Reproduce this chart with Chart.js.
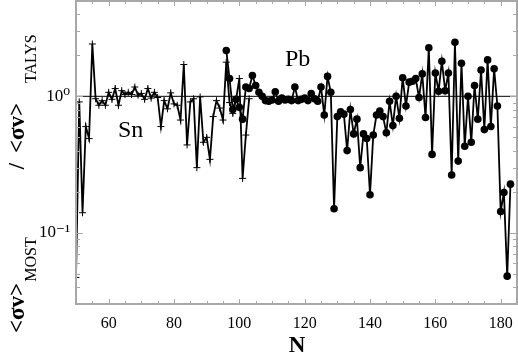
<!DOCTYPE html>
<html>
<head>
<meta charset="utf-8">
<script src="https://cdn.jsdelivr.net/npm/chart.js@4.4.1/dist/chart.umd.min.js"></script>
<style>
  html, body { margin: 0; padding: 0; background: #fff; }
  #wrap { width: 518px; height: 355px; }
</style>
</head>
<body>
<div id="wrap"><canvas id="c" width="518" height="355"></canvas></div>
<script>
// Sn chain, N = 50 .. 103
const snN = [];
for (let n = 50; n <= 103; n++) snN.push(n);
const snRatio = [
  0.047, 0.91, 0.14, 0.6, 0.49, 2.42, 0.96, 0.86, 0.93, 0.86,
  1.07, 0.95, 1.14, 0.86, 1.1, 1.03, 1.07, 1.03, 1.17, 1.02,
  1.05, 0.95, 1.14, 0.97, 1.07, 0.98, 0.6, 0.93, 0.81, 1.06,
  0.88, 0.86, 0.67, 1.71, 0.44, 0.91, 0.96, 0.3, 0.99, 0.46,
  0.5, 0.345, 0.71, 0.93, 0.82, 0.67, 1.78, 0.9, 0.75, 0.95,
  1.35, 0.25, 0.52, 0.96
];

// Pb chain, N = 96 .. 183
const pbN = [];
for (let n = 96; n <= 183; n++) pbN.push(n);
const pbRatio = [
  2.17, 1.35, 0.8, 0.95, 0.83, 0.68, 1.17, 1.14, 1.42, 1.2,
  1.07, 1.0, 0.93, 0.92, 0.94, 1.08, 0.92, 0.97, 0.94, 0.95,
  0.93, 1.17, 0.93, 0.95, 0.97, 0.93, 1.05, 0.96, 0.92, 1.17,
  0.73, 1.4, 1.07, 0.15, 0.71, 0.77, 0.74, 0.4, 0.8, 0.53,
  0.68, 0.3, 0.53, 0.49, 0.19, 0.52, 0.73, 0.78, 0.71, 0.54,
  0.92, 0.61, 1.0, 0.69, 1.37, 0.85, 1.27, 1.29, 1.35, 0.98,
  1.46, 0.7, 2.27, 0.375, 1.48, 1.09, 1.81, 1.1, 1.48, 0.265,
  2.49, 0.335, 1.75, 0.43, 1.0, 0.46, 1.2, 0.68, 1.56, 0.57,
  1.85, 0.6, 1.59, 0.85, 0.143, 0.197, 0.048, 0.227
];

// reference line at ratio = 1
const refN = [50, 185];
const refRatio = [1, 1];

// axis ticks
const yTicks = [0.03, 0.04, 0.05, 0.06, 0.07, 0.08, 0.09,
  0.1, 0.2, 0.3, 0.4, 0.5, 0.6, 0.7, 0.8, 0.9, 1, 2, 3, 4, 5];
const yTickLabels = { 0.1: "10\u207B\u00B9", 1: "10\u2070" };
const xLabelEvery = 20;

const toXY = (xs, ys) => xs.map((x, i) => ({ x: x, y: ys[i] }));
const serif = "'Liberation Serif', 'DejaVu Serif', serif";
const gray = "#a8a8a8";

// frame, inward ticks, in-plot labels, y title
const decor = {
  id: "decor",
  afterDraw(chart) {
    const ctx = chart.ctx;
    const a = chart.chartArea;
    const xs = chart.scales.x, ys = chart.scales.y;
    ctx.save();
    ctx.strokeStyle = gray;
    ctx.lineWidth = 1;
    ctx.beginPath();
    xs.ticks.forEach(t => {
      const px = Math.round(xs.getPixelForValue(t.value)) + 0.5;
      const len = t.value % xLabelEvery === 0 ? 5 : 3;
      ctx.moveTo(px, a.bottom); ctx.lineTo(px, a.bottom - len);
      ctx.moveTo(px, a.top); ctx.lineTo(px, a.top + len);
    });
    ys.ticks.forEach(t => {
      const py = Math.round(ys.getPixelForValue(t.value)) + 0.5;
      const len = yTickLabels[t.value] ? 7 : 4;
      ctx.moveTo(a.left, py); ctx.lineTo(a.left + len, py);
      ctx.moveTo(a.right, py); ctx.lineTo(a.right - len, py);
    });
    ctx.stroke();
    ctx.lineWidth = 2;
    ctx.strokeRect(a.left, a.top, a.right - a.left, a.bottom - a.top);

    // chain labels
    ctx.fillStyle = "#000";
    ctx.font = "24px " + serif;
    ctx.textBaseline = "alphabetic";
    ctx.fillText("Sn", 118, 137);
    ctx.fillText("Pb", 285, 66);

    // x title
    ctx.font = "bold 23px " + serif;
    ctx.textAlign = "center";
    ctx.fillText("N", 297, 352);

    // y title, rotated
    ctx.translate(24, 0);
    ctx.rotate(-Math.PI / 2);
    ctx.textAlign = "left";
    const big = "bold 23px " + serif, small = "16px " + serif;
    let p = -333;
    ctx.font = big; ctx.fillText("<\u03C3v>", p, 0);
    p += ctx.measureText("<\u03C3v>").width + 1;
    ctx.font = small; ctx.fillText("MOST", p, 12);
    ctx.font = big; ctx.textAlign = "center"; ctx.fillText("/", -166, 0);
    ctx.textAlign = "left";
    ctx.fillText("<\u03C3v>", -153, 0);
    ctx.font = small; ctx.fillText("TALYS", -83, 12);
    ctx.restore();
  }
};

new Chart(document.getElementById("c"), {
  type: "line",
  data: {
    datasets: [
      {
        label: "ref",
        data: toXY(refN, refRatio),
        borderColor: "#000",
        borderWidth: 1,
        pointRadius: 0
      },
      {
        label: "Sn",
        data: toXY(snN, snRatio),
        borderColor: "#000",
        borderWidth: 1.8,
        pointStyle: "cross",
        pointRadius: 3.5,
        pointBorderWidth: 1,
        pointBorderColor: "#000"
      },
      {
        label: "Pb",
        data: toXY(pbN, pbRatio),
        borderColor: "#000",
        borderWidth: 1.8,
        pointStyle: "circle",
        pointRadius: 3.8,
        pointBackgroundColor: "#000",
        pointBorderColor: "#000",
        pointBorderWidth: 0
      }
    ]
  },
  options: {
    responsive: false,
    animation: false,
    layout: { autoPadding: false, padding: { top: 1, right: 1, left: 0, bottom: 0 } },
    plugins: {
      legend: { display: false },
      tooltip: { enabled: false }
    },
    scales: {
      x: {
        type: "linear",
        min: 50,
        max: 185,
        grid: { display: false, drawTicks: false },
        border: { display: false },
        afterFit: s => { s.height = 51; s.paddingLeft = 0; s.paddingRight = 0; },
        ticks: {
          stepSize: 5,
          autoSkip: false,
          maxRotation: 0,
          padding: 10,
          color: "#000",
          font: { family: serif, size: 16 },
          callback: v => (v % xLabelEvery === 0 ? String(v) : "")
        }
      },
      y: {
        type: "logarithmic",
        min: 0.03,
        max: 5,
        grid: { display: false, drawTicks: false },
        border: { display: false },
        afterFit: s => { s.width = 76; s.paddingTop = 0; s.paddingBottom = 0; },
        afterBuildTicks: s => { s.ticks = yTicks.map(v => ({ value: v })); },
        ticks: {
          autoSkip: false,
          padding: 6,
          color: "#000",
          font: { family: serif, size: 17 },
          callback: v => yTickLabels[v] || ""
        }
      }
    }
  },
  plugins: [decor]
});
</script>
</body>
</html>
